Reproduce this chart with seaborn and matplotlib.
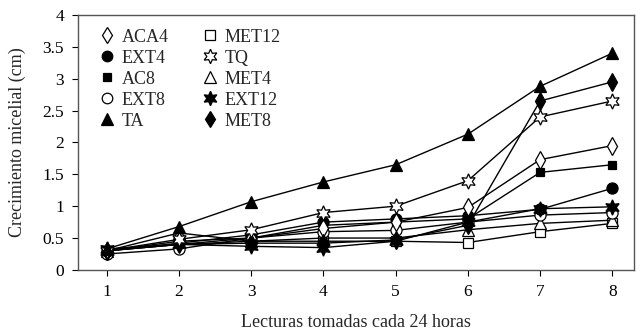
import numpy as np
import pandas as pd
import matplotlib
matplotlib.use("Agg")
import matplotlib.pyplot as plt
import seaborn as sns
from matplotlib.lines import Line2D

# Lecturas (dias) and growth per treatment (cm)
lecturas = [1, 2, 3, 4, 5, 6, 7, 8]

aca4 = [0.30, 0.45, 0.50, 0.65, 0.75, 0.98, 1.73, 1.95]
ext4 = [0.30, 0.42, 0.55, 0.75, 0.80, 0.85, 0.95, 1.28]
ac8 = [0.30, 0.40, 0.50, 0.70, 0.75, 0.80, 1.53, 1.65]
ext8 = [0.25, 0.33, 0.50, 0.60, 0.62, 0.75, 0.86, 0.90]
ta = [0.33, 0.68, 1.07, 1.38, 1.65, 2.13, 2.88, 3.40]
met12 = [0.30, 0.40, 0.45, 0.45, 0.45, 0.43, 0.60, 0.73]
tq = [0.30, 0.48, 0.63, 0.90, 1.00, 1.40, 2.40, 2.65]
met4 = [0.30, 0.58, 0.45, 0.50, 0.50, 0.63, 0.73, 0.78]
ext12 = [0.33, 0.40, 0.37, 0.35, 0.45, 0.75, 0.96, 0.99]
met8 = [0.30, 0.40, 0.42, 0.42, 0.47, 0.70, 2.65, 2.95]

series = {
    "ACA4": aca4, "EXT4": ext4, "AC8": ac8, "EXT8": ext8, "TA": ta,
    "MET12": met12, "TQ": tq, "MET4": met4, "EXT12": ext12, "MET8": met8,
}

# marker, size, filled
estilos = {
    "ACA4": ("d", 9, False),
    "EXT4": ("o", 8, True),
    "AC8": ("s", 6, True),
    "EXT8": ("o", 8, False),
    "TA": ("^", 9, True),
    "MET12": ("s", 7, False),
    "TQ": ((6, 1, 0), 11, False),
    "MET4": ("^", 9, False),
    "EXT12": ((6, 1, 0), 11, True),
    "MET8": ("d", 9, True),
}

sns.set_style("white")
plt.rcParams["font.family"] = ["Liberation Serif", "DejaVu Serif"]

fig = plt.figure(figsize=(6.42, 3.32), dpi=100)
ax = fig.add_axes([0.1215, 0.187, 0.866, 0.768])

orden_dibujo = ["MET12", "MET4", "EXT8", "EXT12", "EXT4", "AC8", "ACA4",
                "MET8", "TQ", "TA"]
for nombre in orden_dibujo:
    m, ms, lleno = estilos[nombre]
    sns.lineplot(x=lecturas, y=series[nombre], ax=ax, color="black",
                 linewidth=1.0, marker=m, markersize=ms,
                 markerfacecolor="black" if lleno else "white",
                 markeredgecolor="black", markeredgewidth=0.9)

handles = []
for nombre in series:
    m, ms, lleno = estilos[nombre]
    handles.append(Line2D([], [], linestyle="none", marker=m,
                          markersize=ms * 0.95, color="black",
                          markerfacecolor="black" if lleno else "white",
                          markeredgecolor="black", markeredgewidth=0.9,
                          label=nombre))
ax.legend(handles=handles, ncol=2, loc="upper left", frameon=False,
          fontsize=13, handlelength=0.8, handletextpad=0.4,
          columnspacing=1.9, labelspacing=0.22,
          bbox_to_anchor=(0.01, 1.01))

ax.set_xlim(0.6, 8.3)
ax.set_ylim(0, 4)
ax.set_xticks(lecturas)
ax.set_yticks(np.arange(0, 4.01, 0.5))
ax.set_yticklabels(["0", "0.5", "1", "1.5", "2", "2.5", "3", "3.5", "4"])
ax.tick_params(axis="both", direction="out", length=4, width=0.8, pad=6,
               labelsize=12.5, colors="black", bottom=True, left=True)
for s in ax.spines.values():
    s.set_color("#555555")
    s.set_linewidth(1.0)

ax.set_xlabel("Lecturas tomadas cada 24 horas", fontsize=13, labelpad=10)
ax.set_ylabel("Crecimiento micelial (cm)", fontsize=13, labelpad=12)

fig.savefig("out.png", dpi=100)
plt.close(fig)
